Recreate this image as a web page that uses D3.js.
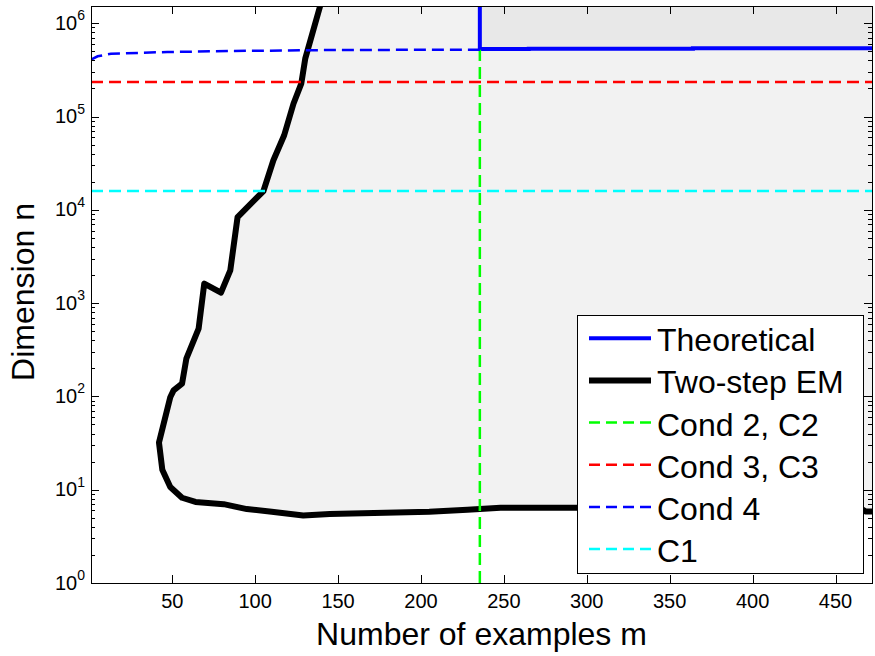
<!DOCTYPE html>
<html>
<head>
<meta charset="utf-8">
<script src="https://cdn.jsdelivr.net/npm/d3@7"></script>
<style>
body { margin: 0; background: #fff; }
text { font-family: "Liberation Sans", Arial, Helvetica, sans-serif; fill: #000; }
</style>
</head>
<body>
<svg id="chart" width="875" height="656"></svg>
<script>
// axis ticks
var xTicks = [50, 100, 150, 200, 250, 300, 350, 400, 450];
var yTickExps = [0, 1, 2, 3, 4, 5, 6];

// Two-step EM boundary (m, n)
var twoStepM = [139.2, 130.2, 127.8, 123.1, 117.5, 111, 105, 89.4, 85, 79.4, 69.3, 65.9, 58.5, 55.9, 50.8, 48.8, 42,
                44, 48.8, 55.9, 64, 81, 95, 110, 129, 145, 205, 228, 248, 300, 400, 465, 468, 472];
var twoStepN = [1.53e6, 4.17e5, 2.25e5, 1.37e5, 6.3e4, 3.4e4, 1.59e4, 8370, 2245, 1295, 1617, 534, 254, 137, 116, 98, 32,
                16.4, 10.7, 8.2, 7.4, 7.0, 6.2, 5.8, 5.3, 5.5, 5.8, 6.1, 6.4, 6.4, 6.3, 6.3, 5.85, 5.85];

// Theoretical boundary
var theoryM = [235.5, 235.5, 265, 265, 364, 364, 472];
var theoryN = [1.53e6, 5.28e5, 5.28e5, 5.33e5, 5.33e5, 5.40e5, 5.40e5];

// Cond 4 curve
var cond4M = [1, 5, 13, 47, 87, 145, 236];
var cond4N = [4.07e5, 4.42e5, 4.72e5, 4.91e5, 5.04e5, 5.16e5, 5.21e5];

// constant conditions
var cond2M = 235.5;
var cond3N = 2.34e5;
var c1N = 1.59e4;

var legendNames = ["Theoretical", "Two-step EM", "Cond 2, C2", "Cond 3, C3", "Cond 4", "C1"];
var legendColors = ["#0000ff", "#000000", "#00ff00", "#ff0000", "#0000ff", "#00ffff"];
var legendWidths = [4, 6, 2.5, 2.5, 2.5, 2.5];
var legendDash = [null, null, "11,6", "11,6", "11,6", "11,6"];

var mLeft = 91, mTop = 6, width = 781, height = 577;
var svg = d3.select("#chart");

var x = d3.scaleLinear().domain([1, 472]).range([0, width]);
var y = d3.scaleLog().domain([1, 1.53e6]).range([height, 0]);

svg.append("defs").append("clipPath").attr("id", "clip")
  .append("rect").attr("width", width).attr("height", height);

var g = svg.append("g").attr("transform", "translate(" + mLeft + "," + mTop + ")");
var plot = g.append("g").attr("clip-path", "url(#clip)");

var pts = function(ms, ns) { return ms.map(function(m, i) { return [m, ns[i]]; }); };
var line = d3.line().x(function(d) { return x(d[0]); }).y(function(d) { return y(d[1]); });

// light grey region right of the EM boundary
var region = pts(twoStepM, twoStepN).concat([[472, 1.53e6]]);
plot.append("path").attr("d", line(region) + "Z").attr("fill", "#f2f2f2");

// darker grey above the theoretical line
var theoryRegion = pts(theoryM, theoryN).concat([[472, 1.53e6]]);
plot.append("path").attr("d", line(theoryRegion) + "Z").attr("fill", "#e8e8e8");

plot.append("path").attr("d", line(pts(theoryM, theoryN)))
  .attr("fill", "none").attr("stroke", "#0000ff").attr("stroke-width", 4);

plot.append("path").attr("d", line(pts(twoStepM, twoStepN)))
  .attr("fill", "none").attr("stroke", "#000").attr("stroke-width", 6).attr("stroke-linejoin", "round");

var dashed = function(data, color) {
  plot.append("path").attr("d", line(data))
    .attr("fill", "none").attr("stroke", color).attr("stroke-width", 2.5)
    .attr("stroke-dasharray", "12,6");
};
dashed([[cond2M, 1], [cond2M, 5.2e5]], "#00ff00");
dashed([[1, cond3N], [472, cond3N]], "#ff0000");
dashed(pts(cond4M, cond4N), "#0000ff");
dashed([[1, c1N], [472, c1N]], "#00ffff");

// axes box
g.append("rect").attr("x", 0.5).attr("y", 0.5).attr("width", width).attr("height", height)
  .attr("fill", "none").attr("stroke", "#000").attr("stroke-width", 1);

var majorY = yTickExps.map(function(e) { return Math.pow(10, e); });
var minorY = [];
yTickExps.forEach(function(e) {
  for (var k = 2; k <= 9; k++) {
    var v = k * Math.pow(10, e);
    if (v <= 1.53e6) minorY.push(v);
  }
});

var tickLine = function(x1, y1, x2, y2) {
  g.append("line").attr("x1", x1).attr("y1", y1).attr("x2", x2).attr("y2", y2)
    .attr("stroke", "#000").attr("stroke-width", 1).attr("shape-rendering", "crispEdges");
};

xTicks.forEach(function(t) {
  var px = Math.round(x(t)) + 0.5;
  tickLine(px, height, px, height - 8);
  tickLine(px, 0, px, 8);
  g.append("text").attr("x", x(t)).attr("y", height + 25)
    .attr("text-anchor", "middle").style("font-size", "20px").text(t);
});

majorY.forEach(function(v, i) {
  var py = Math.round(y(v)) + 0.5;
  tickLine(0, py, 8, py);
  tickLine(width, py, width - 8, py);
  var t = g.append("text").attr("x", -6).attr("y", y(v) + 6.5)
    .attr("text-anchor", "end").style("font-size", "20px");
  t.append("tspan").text("10");
  t.append("tspan").attr("dy", -9.5).style("font-size", "14px").text(yTickExps[i]);
});

minorY.forEach(function(v) {
  var py = Math.round(y(v)) + 0.5;
  tickLine(0, py, 4, py);
  tickLine(width, py, width - 4, py);
});

// axis labels
svg.append("text").attr("x", mLeft + width / 2).attr("y", 645)
  .attr("text-anchor", "middle").style("font-size", "32px").text("Number of examples m");
svg.append("text").attr("transform", "translate(34,292) rotate(-90)")
  .attr("text-anchor", "middle").style("font-size", "32px").text("Dimension n");

// legend
var lg = svg.append("g");
lg.append("rect").attr("x", 577.5).attr("y", 315.5).attr("width", 286).attr("height", 258)
  .attr("fill", "#fff").attr("stroke", "#000").attr("stroke-width", 1);
legendNames.forEach(function(name, i) {
  var ry = 338.3 + i * 42.15;
  var l = lg.append("line").attr("x1", 589).attr("x2", 651).attr("y1", ry).attr("y2", ry)
    .attr("stroke", legendColors[i]).attr("stroke-width", legendWidths[i]);
  if (legendDash[i]) l.attr("stroke-dasharray", legendDash[i]);
  lg.append("text").attr("x", 657).attr("y", ry + 13).style("font-size", "32px").text(name);
});
</script>
</body>
</html>
